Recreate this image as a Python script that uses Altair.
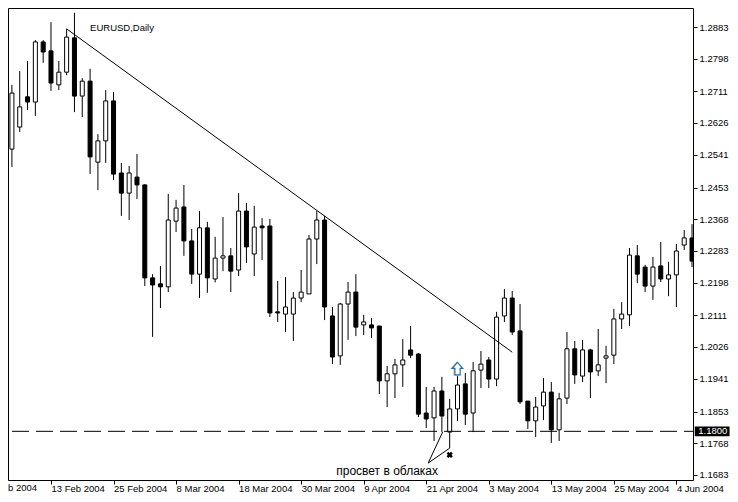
import altair as alt
import pandas as pd

high = [1.2728,1.2765,1.2792,1.2848,1.2848,1.2896,1.2792,1.2878,1.2921,1.2746,
        1.2771,1.2596,1.2714,1.2709,1.2519,1.2511,1.2543,1.2462,1.2221,1.2243,
        1.2436,1.2420,1.2460,1.2342,1.2390,1.2361,1.2321,1.2374,1.2291,1.2438,
        1.2412,1.2404,1.2371,1.2369,1.2203,1.2213,1.2173,1.2232,1.2326,1.2390,
        1.2377,1.2133,1.2144,1.2200,1.2221,1.2112,1.2103,1.2082,1.1975,1.1994,
        1.2047,1.2082,1.2010,1.1919,1.1919,1.1946,1.1887,1.1948,1.1956,1.1986,
        1.2015,1.1999,1.2120,1.2181,1.2176,1.2141,1.1881,1.1892,1.1943,1.1932,
        1.1903,1.2066,1.2042,1.2045,1.2021,1.2074,1.2029,1.2128,1.2146,1.2291,
        1.2299,1.2246,1.2267,1.2307,1.2254,1.2302,1.2339,1.2355]
body_top = [1.2706,1.2669,1.2696,1.2843,1.2843,1.2819,1.2762,1.2856,1.2854,1.2738,
            1.2738,1.2578,1.2685,1.2685,1.2492,1.2492,1.2481,1.2460,1.2211,1.2195,
            1.2366,1.2398,1.2401,1.2310,1.2345,1.2345,1.2264,1.2270,1.2270,1.2390,
            1.2390,1.2347,1.2350,1.2350,1.2120,1.2133,1.2157,1.2173,1.2315,1.2366,
            1.2366,1.2109,1.2141,1.2173,1.2173,1.2093,1.2085,1.2082,1.1954,1.1978,
            1.1991,1.2018,1.2007,1.1849,1.1908,1.1908,1.1860,1.1924,1.1927,1.1962,
            1.1980,1.1991,1.2106,1.2157,1.2157,1.2069,1.1881,1.1865,1.1905,1.1905,
            1.1887,1.2021,1.2021,1.2018,1.2018,1.1978,1.2002,1.2101,1.2114,1.2272,
            1.2270,1.2240,1.2240,1.2243,1.2219,1.2283,1.2318,1.2318]
body_bottom = [1.2556,1.2615,1.2682,1.2682,1.2816,1.2733,1.2728,1.2762,1.2698,1.2698,
               1.2535,1.2521,1.2578,1.2489,1.2438,1.2438,1.2460,1.2211,1.2192,1.2187,
               1.2187,1.2363,1.2310,1.2221,1.2221,1.2211,1.2208,1.2264,1.2229,1.2232,
               1.2294,1.2275,1.2345,1.2117,1.2117,1.2114,1.2114,1.2157,1.2168,1.2315,
               1.2133,1.1999,1.2002,1.2141,1.2079,1.2085,1.2077,1.1935,1.1935,1.1954,
               1.1978,1.2004,1.1846,1.1833,1.1836,1.1841,1.1798,1.1860,1.1846,1.1849,
               1.1964,1.1940,1.1940,1.2109,1.2066,1.1879,1.1828,1.1828,1.1868,1.1804,
               1.1804,1.1889,1.1951,1.1948,1.1959,1.1962,1.1996,1.2004,1.2101,1.2112,
               1.2221,1.2189,1.2189,1.2208,1.2208,1.2219,1.2299,1.2256]
low = [1.2508,1.2602,1.2661,1.2645,1.2787,1.2712,1.2714,1.2754,1.2655,1.2642,
       1.2489,1.2446,1.2519,1.2473,1.2377,1.2366,1.2422,1.2189,1.2053,1.2130,
       1.2173,1.2334,1.2270,1.2195,1.2157,1.2171,1.2199,1.2229,1.2173,1.2216,
       1.2251,1.2216,1.2259,1.2106,1.2093,1.2066,1.2042,1.2146,1.2168,1.2248,
       1.2098,1.1980,1.1978,1.2045,1.2055,1.2058,1.2050,1.1900,1.1865,1.1889,
       1.1919,1.1996,1.1838,1.1809,1.1774,1.1798,1.1798,1.1828,1.1817,1.1798,
       1.1916,1.1916,1.1921,1.2093,1.2058,1.1873,1.1806,1.1785,1.1830,1.1769,
       1.1774,1.1873,1.1927,1.1932,1.1889,1.1948,1.1929,1.1980,1.2074,1.2082,
       1.2197,1.2173,1.2152,1.2200,1.2162,1.2133,1.2286,1.2240]
rising = list("WWBWBBWWBW" "BWWBBWBBBB" "WWBBWBWWBW" "BWBBBWWWWW"
              "BBWWBWBBWW" "WBBBWBWWBW" "WBWWBBBWWB" "WWBWBWWWWW"
              "BBWBWWWB")

price_ticks = [1.2883,1.2798,1.2711,1.2626,1.2541,1.2453,1.2368,1.2283,1.2198,
               1.2111,1.2026,1.1941,1.1853,1.1768,1.1683]
date_ticks = [5,13,21,29,37,45,53,61,69,77,85]
date_labels = ["13 Feb 2004","25 Feb 2004","8 Mar 2004","18 Mar 2004","30 Mar 2004",
               "9 Apr 2004","21 Apr 2004","3 May 2004","13 May 2004","25 May 2004","4 Jun 2004"]

trend_bar = [7, 64]
trend_price = [1.2878, 1.2012]
note_bar = [55.1, 53.25, 56, 56]
note_price = [1.1798, 1.1715, 1.1755, 1.1798]

BAR_MIN = -0.5
BAR_MAX = 87.125
Y_TOP = 1.29339
Y_BOT = 1.16696

df = pd.DataFrame({"bar": list(range(len(high))), "high": high, "low": low,
                   "top": body_top, "bottom": body_bottom, "kind": rising})

xs = alt.Scale(domain=[BAR_MIN, BAR_MAX], nice=False, zero=False, padding=0)
ys = alt.Scale(domain=[Y_BOT, Y_TOP], nice=False, zero=False)
FONT = "Liberation Sans"
label_map = "{" + ",".join(f"{b}:'{t}'" for b, t in zip(date_ticks, date_labels)) + "}"

x_axis = alt.Axis(values=date_ticks, labelExpr=label_map + "[datum.value]", title=None, grid=False,
                  domain=False, tickColor="black", tickSize=4, labelAlign="left", labelBaseline="middle",
                  labelPadding=4, labelColor="black", labelFont=FONT, labelFontSize=9.5,
                  labelOverlap=False, labelBound=False, labelFlush=False)
y_axis = alt.Axis(values=price_ticks, format=".4f", orient="right", title=None, grid=False,
                  domain=False, tickColor="black", tickSize=4, labelPadding=2, labelColor="black",
                  labelFont=FONT, labelFontSize=9.5, labelOverlap=False, labelBound=False, labelFlush=False)

def X(f): return alt.X(f, scale=xs, axis=x_axis)
def Y(f): return alt.Y(f, scale=ys, axis=y_axis)

wicks = alt.Chart(df).mark_rule(color="black", strokeWidth=1, clip=True).encode(
    x=X("bar:Q"), y=Y("low:Q"), y2="high:Q")
bodies = alt.Chart(df).mark_bar(size=4, stroke="black", strokeWidth=1, clip=True).encode(
    x=X("bar:Q"), y=Y("bottom:Q"), y2="top:Q",
    fill=alt.Fill("kind:N", scale=alt.Scale(domain=["W", "B"], range=["white", "black"]), legend=None))

level = alt.Chart(pd.DataFrame({"p": [1.18]})).mark_rule(color="black", strokeWidth=1, strokeDash=[17, 7],
                                                          strokeDashOffset=8).encode(y=Y("p:Q"))
trend = alt.Chart(pd.DataFrame({"bar": trend_bar, "p": trend_price})).mark_line(color="black", strokeWidth=1).encode(
    x=X("bar:Q"), y=Y("p:Q"))
note_line = alt.Chart(pd.DataFrame({"bar": note_bar, "p": note_price, "o": [0, 1, 2, 3]})).mark_line(
    color="black", strokeWidth=1).encode(x=X("bar:Q"), y=Y("p:Q"), order="o:Q")

def text(label, bar, price, **kw):
    return alt.Chart(pd.DataFrame({"bar": [bar], "p": [price], "t": [label]})).mark_text(
        font=FONT, baseline="middle", clip=False, **kw).encode(x=X("bar:Q"), y=Y("p:Q"), text="t:N")

title = text("EURUSD,Daily", 10, 1.2880, align="left", fontSize=9.5, color="black")
note = text("просвет в облаках", 48, 1.1694, align="center", fontSize=12, color="black")
first_date = text("b 2004", -0.5, 1.1648, align="left", fontSize=9.5, color="black")

box = alt.Chart(pd.DataFrame({"a": [87.35], "b": [91.8], "lo": [1.1787], "hi": [1.1813]})).mark_rect(
    color="black", clip=False).encode(x=X("a:Q"), x2="b:Q", y=Y("lo:Q"), y2="hi:Q")
box_text = text("1.1800", 87.8, 1.1800, align="left", fontSize=9.5, color="white")

arrow_path = "M0,-1 L0.8,-0.1 L0.4,-0.1 L0.4,0.9 L-0.4,0.9 L-0.4,-0.1 L-0.8,-0.1 Z"
arrow_shade = alt.Chart(pd.DataFrame({"bar": [56.9], "p": [1.1967]})).mark_point(
    shape=arrow_path, size=170, fill="white", filled=True, stroke="#f0a040", strokeWidth=1.2, opacity=1).encode(
    x=X("bar:Q"), y=Y("p:Q"))
arrow = alt.Chart(pd.DataFrame({"bar": [57], "p": [1.1967]})).mark_point(
    shape=arrow_path, size=170, fill="white", filled=True, stroke="#1f6fb4", strokeWidth=1.2, opacity=1).encode(
    x=X("bar:Q"), y=Y("p:Q"))
cross = alt.Chart(pd.DataFrame({"bar": [56], "p": [1.1737]})).mark_point(
    shape="cross", angle=45, size=40, filled=True, color="black", opacity=1).encode(
    x=X("bar:Q"), y=Y("p:Q"))

chart = alt.layer(wicks, bodies, level, trend, note_line, title, note, first_date, box, box_text,
                  arrow_shade, arrow, cross
    ).resolve_scale(x="shared", y="shared").properties(
    width=685, height=472, background="white",
    autosize=alt.AutoSizeParams(type="none"),
    padding={"left": 0, "top": 0, "right": 37, "bottom": 14},
).configure_view(stroke="black", strokeWidth=1)

chart.save("out.html", embed_options={"renderer": "svg", "actions": False})
